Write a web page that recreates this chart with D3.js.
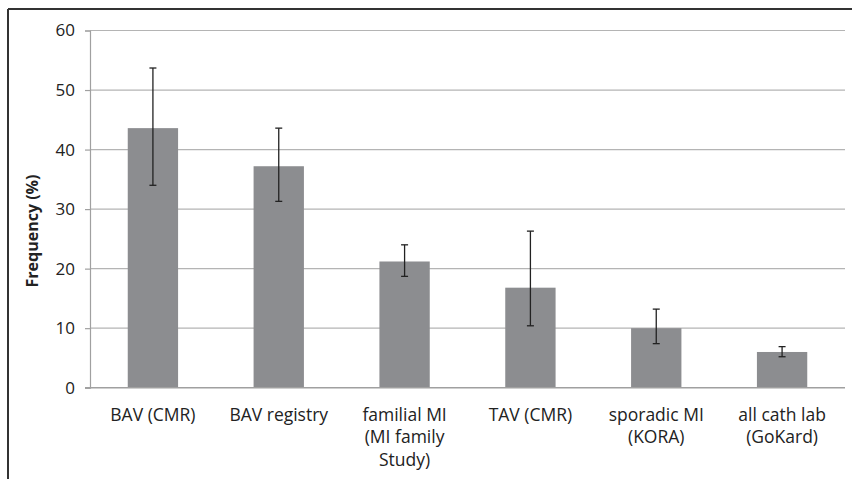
<!DOCTYPE html>
<html>
<head>
<meta charset="utf-8">
<script src="https://cdn.jsdelivr.net/npm/d3@7"></script>
<style>
  html, body { margin: 0; padding: 0; background: #fff; }
  svg { display: block; }
  text { font-family: "Open Sans", "Noto Sans", sans-serif; fill: #222; }
</style>
</head>
<body>
<div id="chart"></div>
<script>
// Chart data
const categories = [
    ["BAV (CMR)"],
    ["BAV registry"],
    ["familial MI", "(MI family", "Study)"],
    ["TAV (CMR)"],
    ["sporadic MI", "(KORA)"],
    ["all cath lab", "(GoKard)"]
];
const values = [43.6, 37.2, 21.2, 16.8, 10.0, 6.0];
const errLow = [34.0, 31.3, 18.7, 10.4, 7.4, 5.2];
const errHigh = [53.7, 43.6, 24.0, 26.3, 13.2, 6.9];
const yTicks = [0, 10, 20, 30, 40, 50, 60];

const width = 852, height = 479;
const margin = { top: 30.5, right: 7, bottom: 91.3, left: 90 };
const innerW = width - margin.left - margin.right;
const innerH = height - margin.top - margin.bottom;

const svg = d3.select("#chart").append("svg")
    .attr("width", width)
    .attr("height", height);

// frame: top and left only
svg.append("line").attr("x1", 8).attr("x2", width).attr("y1", 9).attr("y2", 9)
    .attr("stroke", "#333").attr("stroke-width", 2);
svg.append("line").attr("x1", 8).attr("x2", 8).attr("y1", 9).attr("y2", height)
    .attr("stroke", "#333").attr("stroke-width", 2);

const g = svg.append("g").attr("transform", `translate(${margin.left},${margin.top})`);

const x = d3.scaleBand()
    .domain(d3.range(categories.length))
    .range([0, innerW])
    .paddingInner(0.6)
    .paddingOuter(0.3);

const y = d3.scaleLinear().domain([0, 60]).range([innerH, 0]);

// gridlines
g.append("g")
    .selectAll("line")
    .data(yTicks.filter(d => d > 0))
    .join("line")
    .attr("x1", 0).attr("x2", innerW)
    .attr("y1", d => y(d)).attr("y2", d => y(d))
    .attr("stroke", "#b4b4b4").attr("stroke-width", 1.2);

// y axis
const yAxis = g.append("g")
    .call(d3.axisLeft(y).tickValues(yTicks).tickSize(5).tickPadding(10));
yAxis.select(".domain").attr("stroke", "#a0a0a0").attr("stroke-width", 1.2);
yAxis.selectAll(".tick line").attr("stroke", "#a0a0a0").attr("stroke-width", 1.2);
yAxis.selectAll(".tick text")
    .attr("font-size", null)
    .style("font-size", "17px")
    .attr("fill", "#222");

// bars
g.append("g")
    .selectAll("rect")
    .data(values)
    .join("rect")
    .attr("x", (d, i) => x(i))
    .attr("y", d => y(d))
    .attr("width", x.bandwidth())
    .attr("height", d => innerH - y(d))
    .attr("fill", "#8c8d90");

// baseline
g.append("line").attr("x1", -5).attr("x2", innerW)
    .attr("y1", innerH).attr("y2", innerH)
    .attr("stroke", "#a0a0a0").attr("stroke-width", 1.5);

// error bars
const err = g.append("g").attr("stroke", "#222").attr("stroke-width", 1.3);
values.forEach((v, i) => {
    const cx = x(i) + x.bandwidth() / 2;
    err.append("line").attr("x1", cx).attr("x2", cx)
        .attr("y1", y(errLow[i])).attr("y2", y(errHigh[i]));
    [errLow[i], errHigh[i]].forEach(e => {
        err.append("line").attr("x1", cx - 3.5).attr("x2", cx + 3.5)
            .attr("y1", y(e)).attr("y2", y(e));
    });
});

// category labels
const labels = g.append("g")
    .selectAll("text")
    .data(categories)
    .join("text")
    .attr("text-anchor", "middle")
    .attr("x", (d, i) => x(i) + x.bandwidth() / 2)
    .attr("y", innerH + 33)
    .style("font-size", "17.5px");
labels.each(function (lines) {
    d3.select(this).selectAll("tspan")
        .data(lines)
        .join("tspan")
        .attr("x", d3.select(this).attr("x"))
        .attr("dy", (d, j) => j === 0 ? 0 : 22.5)
        .text(d => d);
});

// y axis title
svg.append("text")
    .attr("transform", "translate(37.5,231) rotate(-90)")
    .attr("text-anchor", "middle")
    .style("font-size", "16px")
    .style("font-weight", "bold")
    .text("Frequency (%)");
</script>
</body>
</html>
